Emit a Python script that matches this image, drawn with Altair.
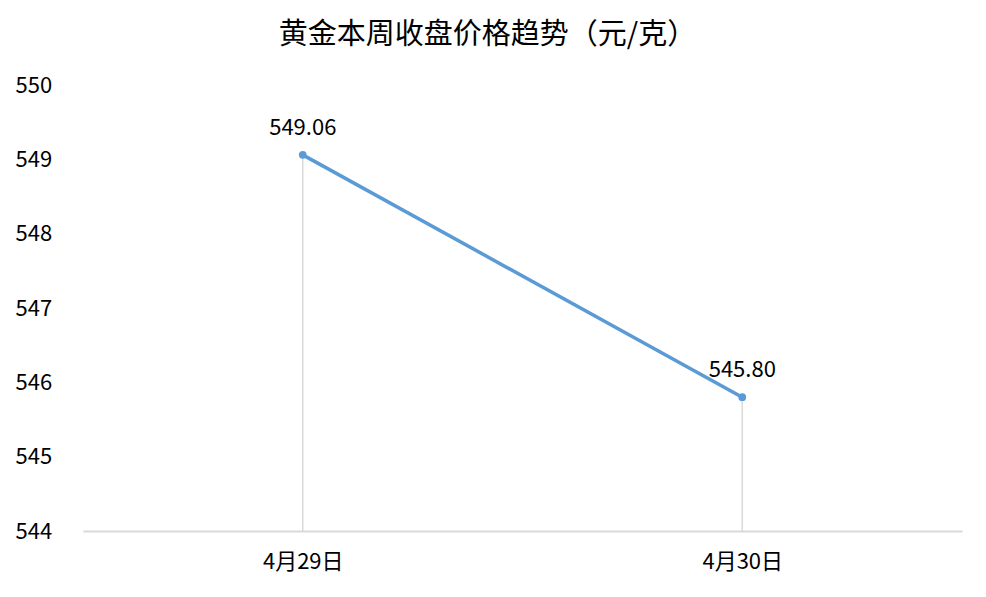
import altair as alt
import pandas as pd

dates = ["4月29日", "4月30日"]
prices = [549.06, 545.80]
labels = ["549.06", "545.80"]
y_ticks = [544, 545, 546, 547, 548, 549, 550]

df = pd.DataFrame({"date": dates, "price": prices, "label": labels, "base": [544] * len(dates)})

FONT = "Noto Sans CJK SC"
BLUE = "#5b9bd5"
GRAY = "#d9d9d9"

x = alt.X("date:N", sort=dates, title=None,
          scale=alt.Scale(type="point", padding=0.5),
          axis=alt.Axis(labelAngle=0, labelFontSize=22, labelFont=FONT, labelColor="#000000",
                        labelPadding=20, ticks=False, domainColor=GRAY, domainWidth=2, grid=False))
y = alt.Y("price:Q", title=None,
          scale=alt.Scale(domain=[544, 550], nice=False, zero=False),
          axis=alt.Axis(values=y_ticks, format="d", labelFontSize=22, labelFont=FONT,
                        labelColor="#000000", labelAlign="left", labelPadding=68,
                        ticks=False, domain=False, grid=False))

base = alt.Chart(df)

drop = base.mark_rule(color=GRAY, strokeWidth=1.5).encode(x=x, y=y, y2="base:Q")
line = base.mark_line(color=BLUE, strokeWidth=3.5).encode(x=x, y=y)
pts = base.mark_point(filled=True, color=BLUE, size=60, opacity=1).encode(x=x, y=y)
txt = base.mark_text(dy=-27, fontSize=22, font=FONT, color="#000000").encode(x=x, y=y, text="label:N")

chart = alt.layer(drop, line, pts, txt).properties(
    width=879, height=446,
    background="#ffffff",
    title=alt.TitleParams("黄金本周收盘价格趋势（元/克）", fontSize=29, font=FONT,
                          fontWeight="normal", color="#000000", dx=-35, offset=24),
    autosize=alt.AutoSizeParams(type="none"),
    padding={"left": 75, "top": 77, "right": 16, "bottom": 50},
).configure_view(strokeWidth=0)

chart.save("out.html", embed_options={"renderer": "svg", "actions": False})
